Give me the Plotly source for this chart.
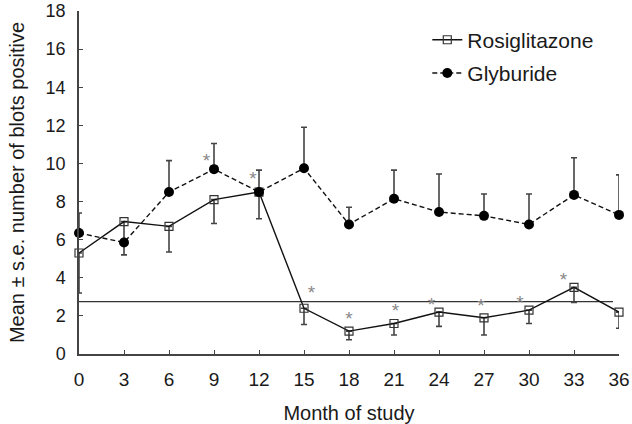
import plotly.graph_objects as go

months = [0, 3, 6, 9, 12, 15, 18, 21, 24, 27, 30, 33, 36]
rosi = [5.3, 6.95, 6.7, 8.1, 8.5, 2.4, 1.2, 1.6, 2.2, 1.9, 2.3, 3.5, 2.2]
rosi_se_minus = [2.1, 1.75, 1.35, 1.25, 1.4, 0.85, 0.45, 0.6, 0.75, 0.9, 0.7, 0.8, 0.85]
gly = [6.35, 5.85, 8.5, 9.7, 8.5, 9.75, 6.8, 8.15, 7.45, 7.25, 6.8, 8.35, 7.3]
gly_se_plus = [1.05, 0.0, 1.65, 1.35, 1.15, 2.15, 0.9, 1.5, 2.0, 1.15, 1.6, 1.95, 2.1]
ref_level = 2.75
star_x = [8.5, 11.6, 15.5, 18.0, 21.1, 23.5, 26.8, 29.4, 32.3, 36.1]
star_y = [10.05, 9.1, 3.15, 1.75, 2.2, 2.5, 2.45, 2.6, 3.8, 2.85]
x_ticks = list(range(0, 37, 3))
y_ticks = list(range(0, 19, 2))

FONT = "Liberation Sans, Arial, Helvetica, sans-serif"

fig = go.Figure()

fig.add_shape(type="line", xref="x", yref="y", x0=0, x1=35.6, y0=ref_level, y1=ref_level,
              line=dict(color="#333333", width=1.2), layer="below")

fig.add_trace(go.Scatter(
    x=months, y=rosi, name="Rosiglitazone", mode="lines+markers",
    line=dict(color="#111111", width=1.4),
    marker=dict(symbol="square-open", size=8, color="#333333", line=dict(width=1.2)),
    error_y=dict(type="data", symmetric=False, array=[0]*len(rosi), arrayminus=rosi_se_minus,
                 color="#444444", thickness=1.6, width=3),
    legendgroup="a", cliponaxis=False,
))
fig.add_trace(go.Scatter(
    x=months, y=gly, name="Glyburide", mode="lines+markers",
    line=dict(color="#111111", width=1.4, dash="5px,3px"),
    marker=dict(symbol="circle", size=10, color="#000000"),
    error_y=dict(type="data", symmetric=False, array=gly_se_plus, arrayminus=[0]*len(gly),
                 color="#444444", thickness=1.6, width=3),
    legendgroup="b", cliponaxis=False,
))

fig.add_trace(go.Scatter(
    x=star_x, y=star_y, mode="text", text=["*"]*len(star_x),
    textfont=dict(family=FONT, size=19, color="#888888"),
    showlegend=False, hoverinfo="skip", cliponaxis=False,
))

fig.update_layout(
    width=632, height=424,
    margin=dict(l=79, r=13, t=11, b=70),
    paper_bgcolor="white", plot_bgcolor="white",
    font=dict(family=FONT, size=18, color="#1a1a1a"),
    showlegend=True,
    legend=dict(x=0.645, y=0.975, xanchor="left", yanchor="top",
                bgcolor="rgba(0,0,0,0)", font=dict(size=21),
                traceorder="grouped", tracegroupgap=3, itemwidth=30),
    xaxis=dict(range=[0, 36], tickmode="array", tickvals=x_ticks, ticktext=[str(t) for t in x_ticks],
               showgrid=False, zeroline=False, showline=True, linecolor="#444444", linewidth=1.5,
               ticks="inside", ticklen=4, tickcolor="#444444", tickwidth=1.2, automargin=False,
               ticklabelstandoff=7, ticklabeloverflow="allow",
               title=dict(text="Month of study", font=dict(size=20), standoff=20),
               tickfont=dict(size=19)),
    yaxis=dict(range=[0, 18], tickmode="array", tickvals=y_ticks, ticktext=[str(t) for t in y_ticks],
               showgrid=False, zeroline=False, showline=True, linecolor="#444444", linewidth=1.5,
               ticks="inside", ticklen=4, tickcolor="#444444", tickwidth=1.2, automargin=False,
               ticklabelstandoff=8, ticklabeloverflow="allow",
               title=dict(text="Mean ± s.e. number of blots positive", font=dict(size=20), standoff=16),
               tickfont=dict(size=18)),
)

fig.write_html("out.html", config={"displayModeBar": False},
               post_script="document.body.style.margin='0';")
